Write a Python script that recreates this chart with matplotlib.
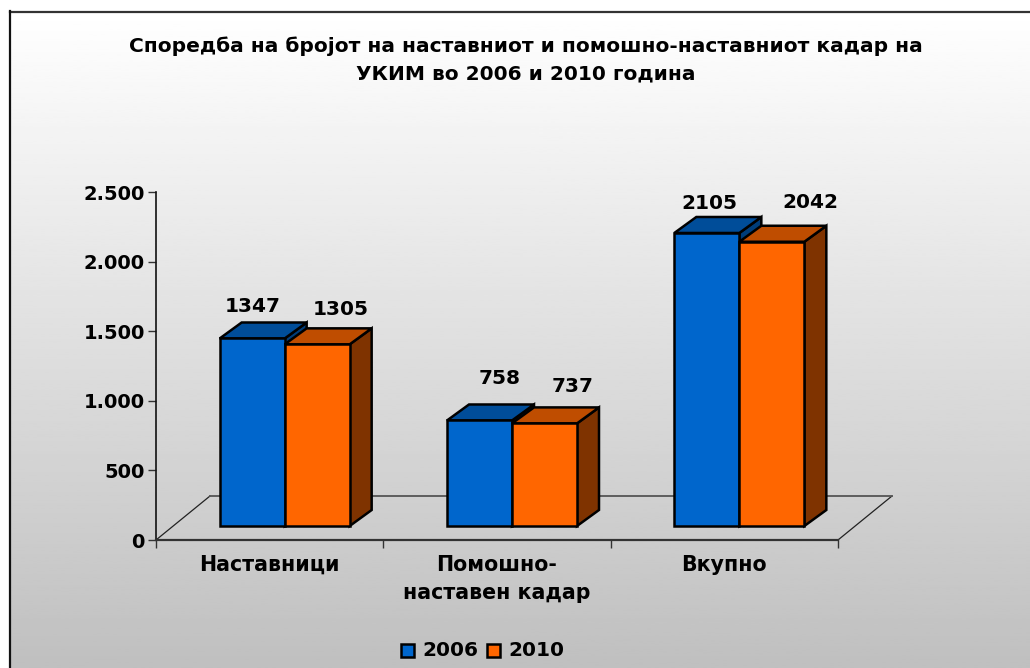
import matplotlib
matplotlib.use("Agg")
import matplotlib.pyplot as plt
from matplotlib.patches import Polygon, Rectangle
import numpy as np

title = "Споредба на бројот на наставниот и помошно-наставниот кадар на\nУКИМ во 2006 и 2010 година"
categories = ["Наставници", "Помошно-\nнаставен кадар", "Вкупно"]
series_names = ["2006", "2010"]
values_2006 = [1347, 758, 2105]
values_2010 = [1305, 737, 2042]
y_ticks = [0, 500, 1000, 1500, 2000, 2500]
y_tick_labels = ["0", "500", "1.000", "1.500", "2.000", "2.500"]

# the value labels were moved by hand in the original, offsets in pixels
shift_2006 = [(1, 2), (20, 12), (3, -1)]
shift_2010 = [(-7, 5), (-2, 7), (8, 9)]

W, H = 1030, 668
plt.rcParams['font.family'] = ['DejaVu Sans']
plt.rcParams['font.weight'] = 'bold'

fig = plt.figure(figsize=(W / 100, H / 100), dpi=100)

# background gradient and frame
bg = fig.add_axes([0, 0, 1, 1])
bg.set_xlim(0, W)
bg.set_ylim(H, 0)
bg.axis('off')
grad = np.linspace(1, 0.75, 256).reshape(-1, 1)
bg.imshow(grad, cmap='gray', vmin=0, vmax=1, extent=[10, W, H, 12], aspect='auto')
bg.set_xlim(0, W)
bg.set_ylim(H, 0)
bg.plot([10, W], [12, 12], color='#333333', lw=1.6)
bg.plot([10, 10], [11, H], color='#111111', lw=1.6)

# front plane of the 3d chart
ax_l, ax_r, ax_b, ax_t = 156, 838, 540, 192
ax = fig.add_axes([ax_l / W, 1 - ax_b / H, (ax_r - ax_l) / W, (ax_b - ax_t) / H])
ax.patch.set_alpha(0)
ax.set_xlim(0, 3)
ax.set_ylim(0, 2500)
px_x = 3 / (ax_r - ax_l)
px_y = 2500 / (ax_b - ax_t)
for s in ['top', 'right']:
    ax.spines[s].set_visible(False)
ax.spines['left'].set_color('#111111')
ax.spines['left'].set_linewidth(1.2)
ax.spines['bottom'].set_color('#333333')
ax.spines['bottom'].set_linewidth(1.6)
ax.set_xticks([0, 1, 2, 3])
ax.set_xticklabels([])
ax.set_yticks(y_ticks)
ax.set_yticklabels(y_tick_labels, fontsize=14, fontweight='bold')
ax.tick_params(axis='both', length=6, width=1.0, color='#333333', pad=2)

for i, cat in enumerate(categories):
    ax.annotate(cat, (i + 0.5, 0), xytext=(0, -10.5), textcoords='offset points',
                ha='center', va='top', fontsize=14.8, fontweight='bold', linespacing=1.5)

# floor outline
floor_dx, floor_dy = 54 * px_x, 44 * px_y
ax.plot([0, floor_dx], [0, floor_dy], color='#222222', lw=0.9, clip_on=False, zorder=1)
ax.plot([3, 3 + floor_dx], [0, floor_dy], color='#222222', lw=0.9, clip_on=False, zorder=1)
ax.plot([floor_dx, 3 + floor_dx], [floor_dy, floor_dy], color='#555555', lw=1.3, clip_on=False, zorder=1)

bar_w = 65 * px_x
depth_x, depth_y = 22 * px_x, 16 * px_y
base_x, base_y = 15 * px_x, 14 * px_y
colors = ['#0066CC', '#FF6600']
top_colors = ['#004D99', '#BF4D00']
side_colors = ['#003D7A', '#7F3300']


def draw_bar(x0, v, k, z):
    y0 = base_y
    y1 = base_y + v
    x1 = x0 + bar_w
    ax.add_patch(Polygon([(x1, y0), (x1 + depth_x, y0 + depth_y), (x1 + depth_x, y1 + depth_y), (x1, y1)],
                         fc=side_colors[k], ec='black', lw=1.8, zorder=z, clip_on=False))
    ax.add_patch(Polygon([(x0, y1), (x0 + depth_x, y1 + depth_y), (x1 + depth_x, y1 + depth_y), (x1, y1)],
                         fc=top_colors[k], ec='black', lw=1.8, zorder=z, clip_on=False))
    ax.bar(x0, v, bar_w, bottom=y0, align='edge', color=colors[k], edgecolor='black', lw=1.8, zorder=z, clip_on=False)


for i in range(3):
    left = i + 0.5 + base_x - bar_w
    draw_bar(left, values_2006[i], 0, 3)
    draw_bar(left + bar_w, values_2010[i], 1, 4)
    sx, sy = shift_2006[i]
    ax.annotate(str(values_2006[i]), (left + bar_w / 2, values_2006[i] + base_y),
                xytext=(sx * 0.72, 15 + sy * 0.72), textcoords='offset points',
                ha='center', va='bottom', fontsize=14.5, fontweight='bold', zorder=6)
    sx, sy = shift_2010[i]
    ax.annotate(str(values_2010[i]), (left + 1.5 * bar_w, values_2010[i] + base_y),
                xytext=(22 + sx * 0.72, 15 + sy * 0.72), textcoords='offset points',
                ha='center', va='bottom', fontsize=14.5, fontweight='bold', zorder=6)

bg.text(526, 60, title, ha='center', va='center', fontsize=14.5, fontweight='bold', linespacing=1.52)

# legend
for x, name, c in zip([401, 487], series_names, colors):
    bg.add_patch(Rectangle((x, 644), 13, 13, fc=c, ec='black', lw=1.8))
    bg.text(x + 21.5, 650, name, ha='left', va='center', fontsize=14.5, fontweight='bold')

fig.savefig("out.png", dpi=100)
